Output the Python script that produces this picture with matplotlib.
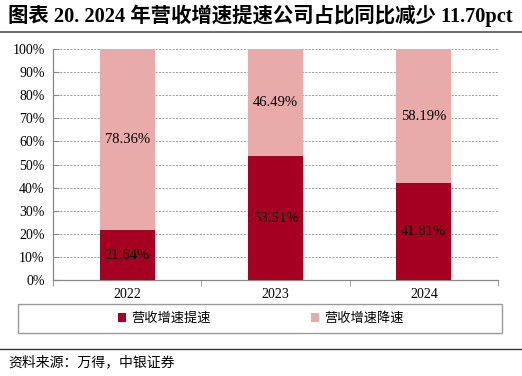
import numpy as np
import matplotlib
matplotlib.use("Agg")
import matplotlib.pyplot as plt
from matplotlib.lines import Line2D
from matplotlib.patches import Rectangle

years = ["2022", "2023", "2024"]
speed_up = [21.64, 53.51, 41.81]
slow_down = [78.36, 46.49, 58.19]
series_names = ["营收增速提速", "营收增速降速"]
title = "图表 20. 2024 年营收增速提速公司占比同比减少 11.70pct"
source = "资料来源：万得，中银证券"

dark_red = "#A50021"
light_red = "#E9AAAA"
serif_cjk = ["Liberation Serif", "Noto Sans CJK SC"]

fig = plt.figure(figsize=(5.22, 3.76), dpi=100)
ax = fig.add_axes([0.1015, 0.2553, 0.8525, 0.6144])

x = np.arange(len(years))
b1 = ax.bar(x, speed_up, width=0.37, color=dark_red, zorder=3)
b2 = ax.bar(x, slow_down, width=0.37, bottom=speed_up, color=light_red, zorder=3)

for i in range(len(years)):
    ax.text(x[i], speed_up[i] / 2, "%.2f%%" % speed_up[i], ha="center", va="center",
            fontsize=10.5, family="Liberation Serif", zorder=4)
    ax.text(x[i], speed_up[i] + slow_down[i] / 2, "%.2f%%" % slow_down[i], ha="center",
            va="center", fontsize=10.5, family="Liberation Serif", zorder=4)

ax.set_xlim(-0.5, len(years) - 0.5)
ax.set_ylim(0, 100)
ax.set_yticks(np.arange(0, 101, 10))
ax.set_yticklabels(["%d%%" % v for v in range(0, 101, 10)], family="Liberation Serif", fontsize=10)
ax.set_xticks(x)
ax.set_xticklabels(years, family="Liberation Serif", fontsize=10)
ax.set_xticks(np.arange(-0.5, len(years), 1.0), minor=True)
ax.tick_params(axis="x", which="major", length=0, pad=6)
ax.tick_params(axis="x", which="minor", length=4, color="#888888", direction="out")
ax.tick_params(axis="y", length=4, color="#888888", direction="in", pad=6)
ax.grid(axis="y", linestyle=(0, (2, 1.5)), color="#999999", linewidth=0.7, zorder=0)
for s in ["top", "right"]:
    ax.spines[s].set_visible(False)
for s in ["left", "bottom"]:
    ax.spines[s].set_color("#888888")
    ax.spines[s].set_linewidth(0.9)

# legend box
fig.patches.append(Rectangle((18 / 522, 1 - 333 / 376), 484 / 522, 29 / 376, transform=fig.transFigure,
                             fill=False, edgecolor="#999999", linewidth=1.0))
leg = fig.legend([b1, b2], series_names, loc="center", bbox_to_anchor=(0.5, 1 - 318.5 / 376),
                 ncol=2, frameon=False, columnspacing=7.6, handlelength=0.6, handleheight=0.6,
                 handletextpad=0.4, prop={"family": "Noto Sans CJK SC", "size": 9.5})

fig.text(8 / 522, 1 - 16 / 376, title, ha="left", va="center", fontsize=14.7, fontweight="bold",
         family=serif_cjk)
fig.lines.append(Line2D([0, 1], [1 - 32 / 376] * 2, transform=fig.transFigure, color="#555555", linewidth=1.2))
fig.lines.append(Line2D([0, 1], [1 - 349 / 376] * 2, transform=fig.transFigure, color="#333333", linewidth=1.0))
fig.text(8 / 522, 1 - 362 / 376, source, ha="left", va="center", fontsize=10, style="italic",
         family="Noto Sans CJK SC")

fig.savefig("out.png", dpi=100)
